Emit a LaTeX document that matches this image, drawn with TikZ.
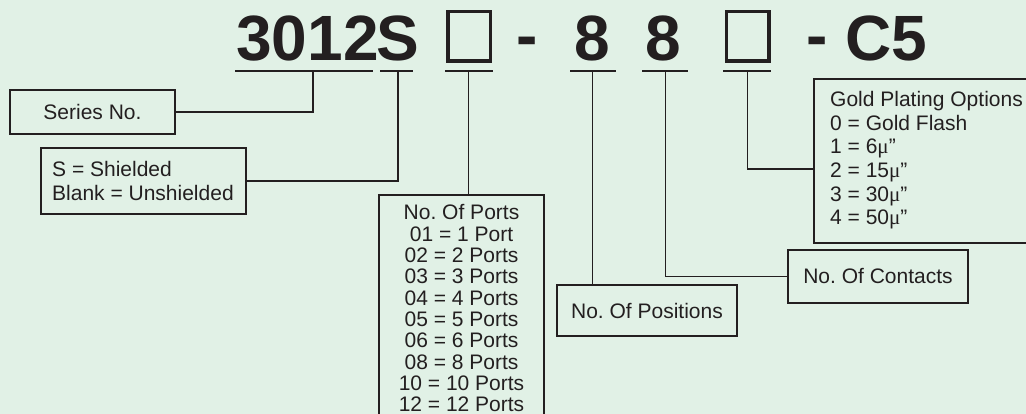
\documentclass[tikz,border=0pt]{standalone}
\usepackage{fontspec}
\setmainfont{Liberation Sans}
\newfontfamily\serif{Liberation Serif}
\definecolor{bg}{RGB}{225,241,230}
\definecolor{ink}{RGB}{35,31,32}
\frenchspacing
\begin{document}
\begin{tikzpicture}[x=1pt,y=-1pt,
  code/.style={font=\fontsize{64}{64}\selectfont\bfseries, text=ink, inner sep=0pt, anchor=base},
  slot/.style={draw=ink, line width=3.5pt, minimum width=42.5pt, minimum height=49.5pt, inner sep=0pt},
  uline/.style={draw=ink, line width=1.6pt},
  conn/.style={draw=ink, line width=1.6pt},
  infobox/.style={draw=ink, line width=1.6pt, text=ink, inner sep=0pt, font=\fontsize{21}{24}\selectfont},
  infotext/.style={text=ink, inner sep=0pt, anchor=north west, align=left},
]
\useasboundingbox (0,0) rectangle (1026,414);
\fill[bg] (0,0) rectangle (1026,414);
\begin{scope}
\clip (0,0) rectangle (1026,414);
% code line
\node[code] (c3012) at (307.5,61) {3012};
\node[code] (cS) at (398,61) {S};
\node[slot] (box1) at (469,36.5) {};
\node[code] (h1) at (527.5,58) {-};
\node[code] (c8a) at (592,61) {8};
\node[code] (c8b) at (663.5,61) {8};
\node[slot] (box2) at (747.5,36.5) {};
\node[code] (h2) at (817.5,58) {-};
\node[code] (cC5) at (886.5,61) {C5};
% underlines
\draw[uline] (235,71) -- (373,71);
\draw[uline] (380,71) -- (413,71);
\draw[uline] (445,71) -- (493,71);
\draw[uline] (570,71) -- (616,71);
\draw[uline] (642,71) -- (688,71);
\draw[uline] (723,71) -- (771,71);
\coordinate (t1) at (313,71);
\coordinate (t2) at (398,71);
\coordinate (t3) at (468.5,71);
\coordinate (t4) at (592.5,71);
\coordinate (t5) at (665.5,71);
\coordinate (t6) at (747.5,71);
% boxes
\node[infobox, minimum width=165pt, minimum height=44pt] (series) at (92.5,112) {Series No.};
\node[infobox, minimum width=205pt, minimum height=66pt] (shield) at (143.5,181) {};
\node[infotext, font=\fontsize{21}{24}\selectfont] (shieldtxt) at (52,161.2)
  {S = Shielded\\Blank = Unshielded};
\node[infobox, anchor=north, minimum width=165pt, inner ysep=10pt, align=center, font=\fontsize{21}{21.33}\selectfont] (ports) at (461.5,194)
  {No. Of Ports\\01 = 1 Port\\02 = 2 Ports\\03 = 3 Ports\\04 = 4 Ports\\05 = 5 Ports\\06 = 6 Ports\\08 = 8 Ports\\10 = 10 Ports\\12 = 12 Ports};
\node[infobox, minimum width=180pt, minimum height=51pt] (positions) at (647,310.5) {No. Of Positions};
\node[infobox, minimum width=180pt, minimum height=53pt] (contacts) at (878,276.5) {No. Of Contacts};
\node[infobox, minimum width=226pt, minimum height=164pt] (gold) at (927,161) {};
\node[infotext, font=\fontsize{21}{23.6}\selectfont] (goldtxt) at (830,91.2)
  {Gold Plating Options\\0 = Gold Flash\\1 = 6{\serif μ}”\\2 = 15{\serif μ}”\\3 = 30{\serif μ}”\\4 = 50{\serif μ}”};
% connectors
\draw[conn] (series.east) -| (t1);
\draw[conn] (shield.east) -| (t2);
\draw[conn] (t3) -- (t3 |- ports.north);
\draw[conn] (t4) -- (t4 |- positions.north);
\draw[conn] (t5) |- (contacts.west);
\draw[conn] (t6) |- ([yshift=-8pt]gold.west);
\end{scope}
\end{tikzpicture}
\end{document}
